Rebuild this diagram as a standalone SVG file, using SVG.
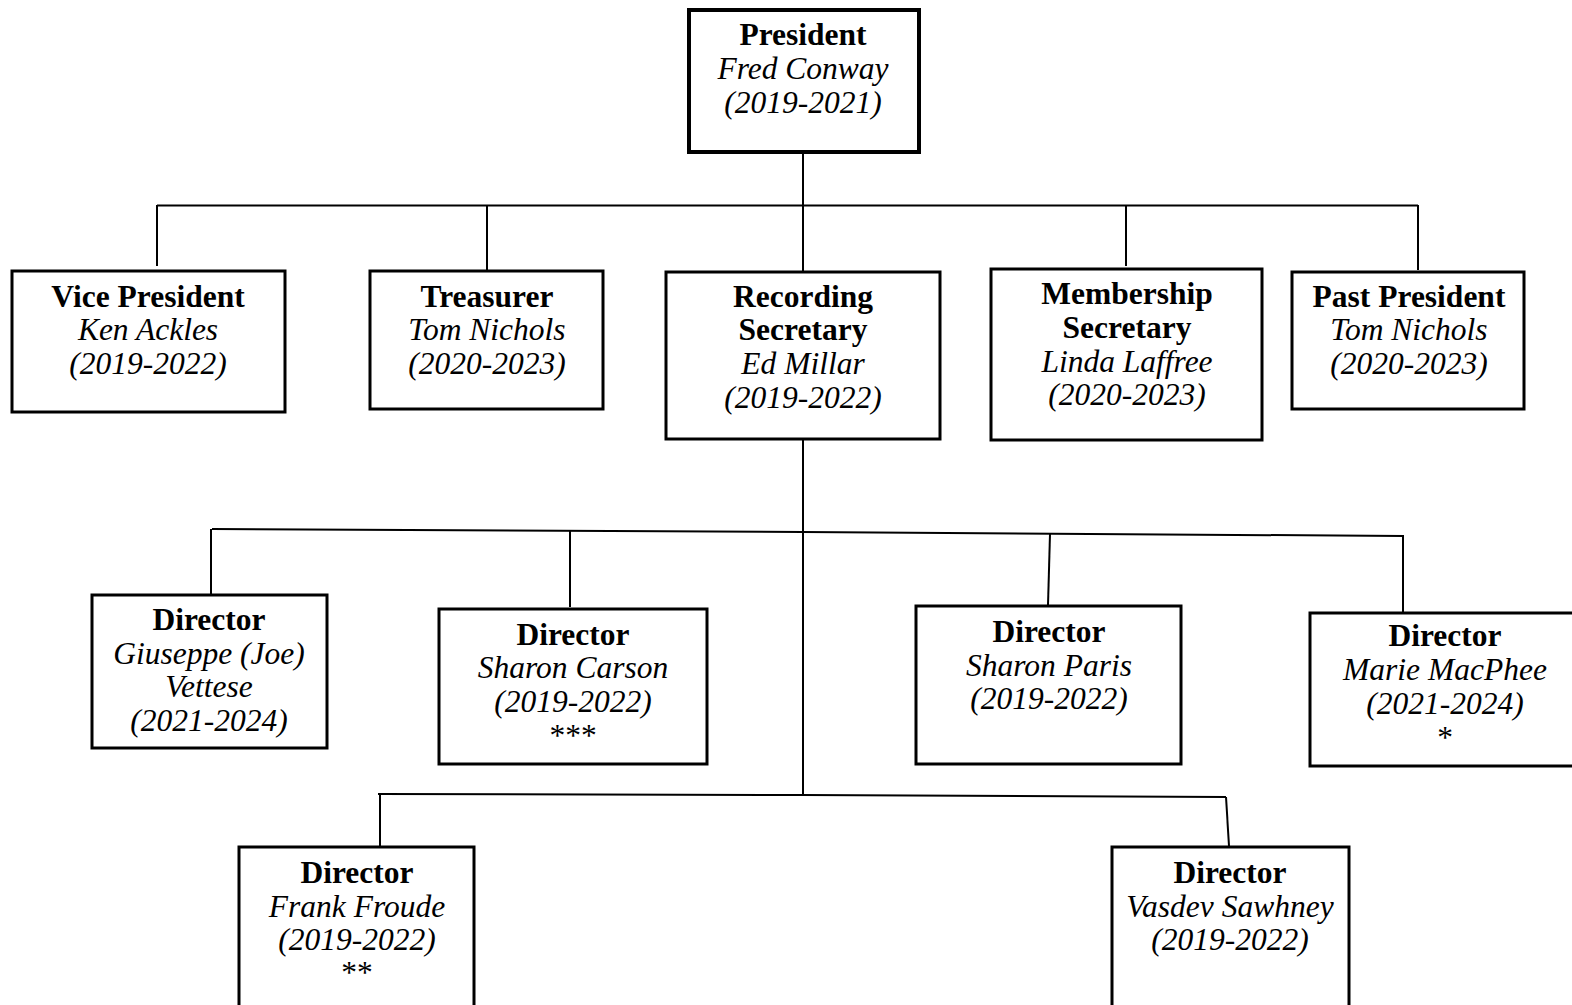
<svg xmlns="http://www.w3.org/2000/svg" width="1572" height="1005" viewBox="0 0 1572 1005">
<style>
.box{fill:#fff;stroke:#000;stroke-width:3}
.pres{fill:#fff;stroke:#000;stroke-width:4}
.ln{stroke:#000;stroke-width:2;fill:none}
text{font-family:"Liberation Serif","Times New Roman",serif;font-size:31.5px;text-anchor:middle;fill:#000}
.t{font-weight:bold}
.n{font-style:italic}
.a{font-size:31.5px}
</style>
<rect width="1572" height="1005" fill="#fff"/>
<g id="connectors">
<line class="ln" x1="803" y1="153" x2="803" y2="271"/>
<line class="ln" x1="157" y1="205.5" x2="1418" y2="205.5"/>
<line class="ln" x1="157" y1="205" x2="157" y2="266"/>
<line class="ln" x1="487" y1="205" x2="487" y2="270"/>
<line class="ln" x1="1126" y1="205" x2="1126" y2="266"/>
<line class="ln" x1="1418" y1="205" x2="1418" y2="270"/>
<line class="ln" x1="803" y1="439" x2="803" y2="795"/>
<polyline class="ln" points="212,529 803,532 1403,536"/>
<line class="ln" x1="211" y1="529" x2="211" y2="594"/>
<line class="ln" x1="570" y1="531" x2="570" y2="607"/>
<line class="ln" x1="1050" y1="534" x2="1048" y2="605"/>
<line class="ln" x1="1403" y1="535" x2="1403" y2="612"/>
<polyline class="ln" points="378,794 803,795 1226,797"/>
<line class="ln" x1="380" y1="794" x2="380" y2="846"/>
<line class="ln" x1="1226" y1="797" x2="1229" y2="846"/>
</g>
<g id="president">
<rect class="pres" x="689" y="10" width="230" height="142"/>
<text class="t" x="803" y="45">President</text>
<text class="n" x="803" y="79">Fred Conway</text>
<text class="n" x="803" y="113">(2019-2021)</text>
</g>
<g id="vice-president">
<rect class="box" x="12" y="271" width="273" height="141"/>
<text class="t" x="148" y="307">Vice President</text>
<text class="n" x="148" y="340">Ken Ackles</text>
<text class="n" x="148" y="374">(2019-2022)</text>
</g>
<g id="treasurer">
<rect class="box" x="370" y="271" width="233" height="138"/>
<text class="t" x="487" y="307">Treasurer</text>
<text class="n" x="487" y="340">Tom Nichols</text>
<text class="n" x="487" y="374">(2020-2023)</text>
</g>
<g id="recording-secretary">
<rect class="box" x="666" y="272" width="274" height="167"/>
<text class="t" x="803" y="307">Recording</text>
<text class="t" x="803" y="340">Secretary</text>
<text class="n" x="803" y="374">Ed Millar</text>
<text class="n" x="803" y="408">(2019-2022)</text>
</g>
<g id="membership-secretary">
<rect class="box" x="991" y="269" width="271" height="171"/>
<text class="t" x="1127" y="304">Membership</text>
<text class="t" x="1127" y="338">Secretary</text>
<text class="n" x="1127" y="372">Linda Laffree</text>
<text class="n" x="1127" y="405">(2020-2023)</text>
</g>
<g id="past-president">
<rect class="box" x="1292" y="272" width="232" height="137"/>
<text class="t" x="1409" y="307">Past President</text>
<text class="n" x="1409" y="340">Tom Nichols</text>
<text class="n" x="1409" y="374">(2020-2023)</text>
</g>
<g id="director-vettese">
<rect class="box" x="92" y="595" width="235" height="153"/>
<text class="t" x="209" y="630">Director</text>
<text class="n" x="209" y="664">Giuseppe (Joe)</text>
<text class="n" x="209" y="697">Vettese</text>
<text class="n" x="209" y="731">(2021-2024)</text>
</g>
<g id="director-carson">
<rect class="box" x="439" y="609" width="268" height="155"/>
<text class="t" x="573" y="645">Director</text>
<text class="n" x="573" y="678">Sharon Carson</text>
<text class="n" x="573" y="712">(2019-2022)</text>
<text class="a" x="573" y="746">***</text>
</g>
<g id="director-paris">
<rect class="box" x="916" y="606" width="265" height="158"/>
<text class="t" x="1049" y="642">Director</text>
<text class="n" x="1049" y="676">Sharon Paris</text>
<text class="n" x="1049" y="709">(2019-2022)</text>
</g>
<g id="director-macphee">
<rect class="box" x="1310" y="613" width="270" height="153"/>
<text class="t" x="1445" y="646">Director</text>
<text class="n" x="1445" y="680">Marie MacPhee</text>
<text class="n" x="1445" y="714">(2021-2024)</text>
<text class="a" x="1445" y="748">*</text>
</g>
<g id="director-froude">
<rect class="box" x="239" y="847" width="235" height="170"/>
<text class="t" x="357" y="883">Director</text>
<text class="n" x="357" y="917">Frank Froude</text>
<text class="n" x="357" y="950">(2019-2022)</text>
<text class="a" x="357" y="983">**</text>
</g>
<g id="director-sawhney">
<rect class="box" x="1112" y="847" width="237" height="170"/>
<text class="t" x="1230" y="883">Director</text>
<text class="n" x="1230" y="917">Vasdev Sawhney</text>
<text class="n" x="1230" y="950">(2019-2022)</text>
</g>
</svg>
